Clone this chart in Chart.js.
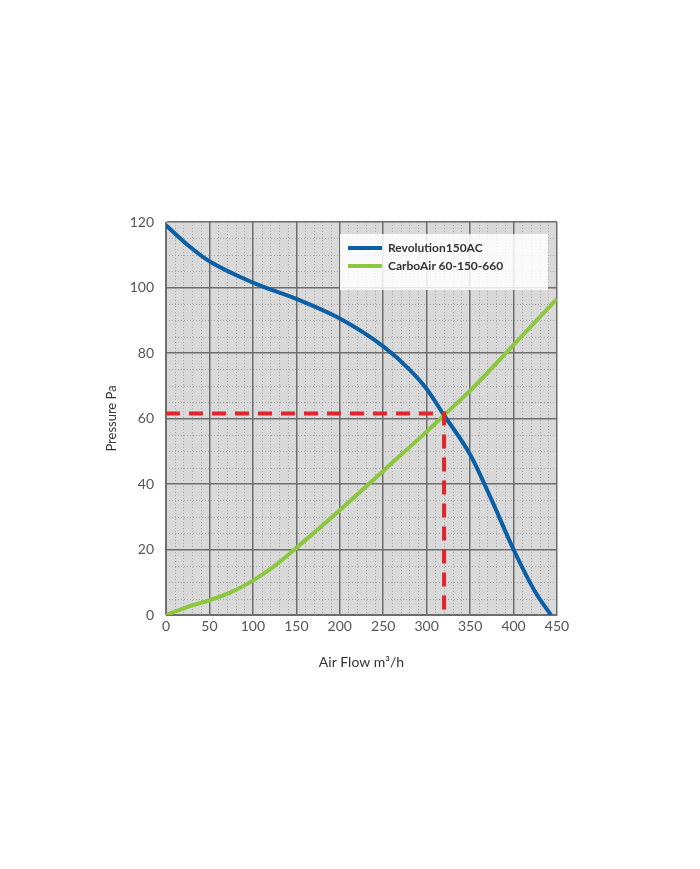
<!DOCTYPE html>
<html>
<head>
<meta charset="utf-8">
<script src="https://cdn.jsdelivr.net/npm/chart.js@4"></script>
<style>
  body { margin: 0; background: #fff; font-family: Lato, sans-serif; }
  #wrap { position: relative; width: 700px; height: 869px; }
  #legend { position: absolute; left: 340px; top: 234px; width: 208px; height: 56px;
    background: rgba(255,255,255,0.85); font-size: 12px; font-weight: bold; color: #333; }
  .row { position: absolute; left: 8px; display: flex; align-items: center; }
  .sw { width: 34px; height: 4px; margin-right: 6px; }
</style>
</head>
<body>
<div id="wrap">
  <canvas id="fanChart" width="700" height="869"></canvas>
  <div id="legend">
    <div class="row" style="top:6px"><span class="sw" style="background:#0b5fa5"></span>Revolution150AC</div>
    <div class="row" style="top:24px"><span class="sw" style="background:#8dc63f"></span>CarboAir 60-150-660</div>
  </div>
</div>
<script>
// fan curve and filter resistance
const fanFlow = [0, 25, 50, 100, 150, 200, 250, 280, 300, 320, 350, 375, 400, 425, 443];
const fanPressure = [119, 113, 108, 101.5, 96.5, 90.5, 82, 75, 69, 61, 49, 35, 20, 7, 0];
const filterFlow = [0, 25, 50, 75, 100, 125, 150, 200, 250, 300, 320, 350, 400, 450];
const filterPressure = [0, 2.5, 4.5, 7, 10.5, 15, 20.5, 32, 44, 56, 61, 68.5, 82.5, 96.5];
const opFlow = [0, 320, 320];
const opPressure = [61.5, 61.5, 0];

const toPoints = (xs, ys) => xs.map((x, i) => ({ x: x, y: ys[i] }));

// grey plot background + dotted minor grid
const plotBg = {
    id: 'plotBg',
    beforeDraw(chart) {
        const { ctx, chartArea: a, scales: { x, y } } = chart;
        ctx.save();
        ctx.fillStyle = '#d9d9d9';
        ctx.fillRect(a.left, a.top, a.right - a.left, a.bottom - a.top);
        ctx.strokeStyle = '#a8a8a8';
        ctx.lineWidth = 1;
        ctx.setLineDash([1, 2]);
        for (let v = 10; v < 450; v += 10) {
            if (v % 50 === 0) continue;
            const px = Math.round(x.getPixelForValue(v)) + 0.5;
            ctx.beginPath(); ctx.moveTo(px, a.top); ctx.lineTo(px, a.bottom); ctx.stroke();
        }
        for (let v = 5; v < 120; v += 5) {
            if (v % 20 === 0) continue;
            const py = Math.round(y.getPixelForValue(v)) + 0.5;
            ctx.beginPath(); ctx.moveTo(a.left, py); ctx.lineTo(a.right, py); ctx.stroke();
        }
        ctx.restore();
    }
};

new Chart(document.getElementById('fanChart'), {
    type: 'line',
    data: {
        datasets: [{
            label: 'operating point',
            data: toPoints(opFlow, opPressure),
            borderColor: '#e0262b',
            borderWidth: 4,
            borderDash: [14, 9],
            pointRadius: 0,
            tension: 0
        }, {
            label: 'Revolution150AC',
            data: toPoints(fanFlow, fanPressure),
            borderColor: '#0b5fa5',
            borderWidth: 4,
            pointRadius: 0,
            cubicInterpolationMode: 'monotone'
        }, {
            label: 'CarboAir 60-150-660',
            data: toPoints(filterFlow, filterPressure),
            borderColor: '#8dc63f',
            borderWidth: 4,
            pointRadius: 0,
            cubicInterpolationMode: 'monotone'
        }]
    },
    options: {
        responsive: false,
        animation: false,
        layout: { padding: { left: 100, top: 222, right: 143, bottom: 194 } },
        plugins: { legend: { display: false }, tooltip: { enabled: false } },
        scales: {
            x: {
                type: 'linear', min: 0, max: 450,
                ticks: { stepSize: 50, color: '#555', font: { family: 'Lato', size: 14 } },
                grid: { color: '#6e6e6e', lineWidth: 1.5, drawTicks: false },
                border: { color: '#6e6e6e' },
                title: { display: true, text: 'Air Flow m³/h', color: '#333', font: { family: 'Lato', size: 14 } },
                afterFit(s) { s.height = 60; }
            },
            y: {
                min: 0, max: 120,
                ticks: { stepSize: 20, color: '#555', padding: 12, font: { family: 'Lato', size: 14 } },
                grid: { color: '#6e6e6e', lineWidth: 1.5, drawTicks: false },
                border: { color: '#6e6e6e' },
                title: { display: true, text: 'Pressure Pa', color: '#333', font: { family: 'Lato', size: 13 } },
                afterFit(s) { s.width = 66; }
            }
        }
    },
    plugins: [plotBg]
});
</script>
</body>
</html>
